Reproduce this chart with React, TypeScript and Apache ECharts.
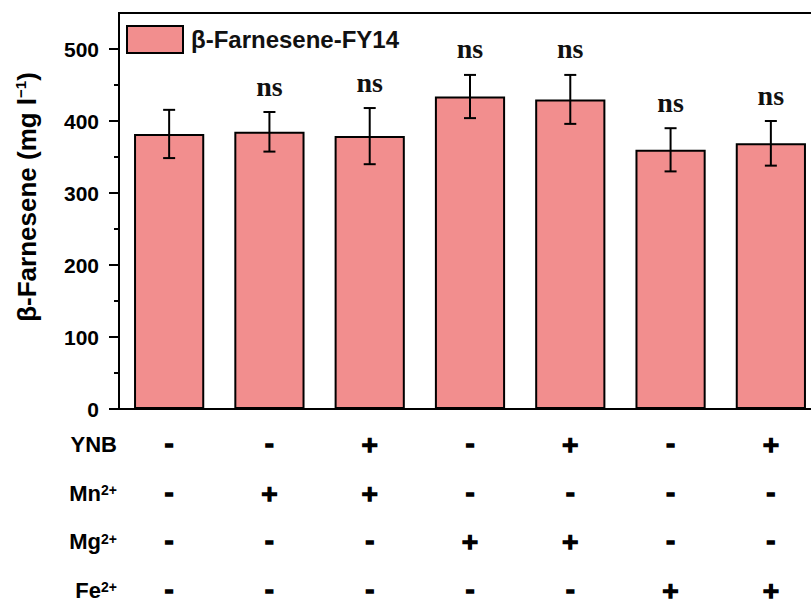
import React, { useEffect, useRef } from "react";
import * as echarts from "echarts";

const categories = ["C1", "C2", "C3", "C4", "C5", "C6", "C7"];
const values = [382, 385, 379, 434, 430, 360, 369];
const errors = [33.5, 27.5, 39, 30, 34, 30, 31];
const sigLabels = ["", "ns", "ns", "ns", "ns", "ns", "ns"];
const yTicks = [0, 100, 200, 300, 400, 500];
const yMinorTicks = [50, 150, 250, 350, 450];
const rowNames = ["YNB", "Mn", "Mg", "Fe"];
const rowSup = ["", "2+", "2+", "2+"];
const rowYNB = ["-", "-", "+", "-", "+", "-", "+"];
const rowMn = ["-", "+", "+", "-", "-", "-", "-"];
const rowMg = ["-", "-", "-", "+", "+", "-", "-"];
const rowFe = ["-", "-", "-", "-", "-", "+", "+"];
const rows = [rowYNB, rowMn, rowMg, rowFe];

const SANS = "Liberation Sans, Arial, sans-serif";

export default function App() {
  const ref = useRef<HTMLDivElement>(null);
  useEffect(() => {
    if (!ref.current) return;
    const chart = echarts.init(ref.current, null, { renderer: "svg" });

    const tableData: any[] = [];
    rows.forEach((signs, r) => signs.forEach((s, c) => tableData.push([c, r, s])));

    chart.setOption({
      animation: false,
      grid: [
        {
          left: 119,
          top: 13,
          width: 702,
          height: 396,
          show: true,
          borderColor: "#000",
          borderWidth: 2,
          backgroundColor: "transparent",
          outerBoundsMode: "none",
          containLabel: false,
        },
        {
          left: 119,
          top: 420.5,
          width: 702,
          height: 194,
          show: false,
          outerBoundsMode: "none",
          containLabel: false,
        },
      ],
      legend: {
        left: 126,
        top: 25,
        padding: 0,
        itemWidth: 56,
        itemHeight: 27,
        icon: "rect",
        data: ["β-Farnesene-FY14"],
        textStyle: {
          fontSize: 24,
          fontWeight: "bold",
          fontFamily: SANS,
          color: "#111",
          padding: [0, 0, 0, 3],
        },
      },
      xAxis: [
        {
          type: "category",
          gridIndex: 0,
          data: categories,
          z: 10,
          axisLine: { lineStyle: { color: "#000", width: 2 } },
          axisTick: { inside: true, alignWithLabel: true, length: 9, lineStyle: { color: "#000", width: 2 } },
          axisLabel: { show: false },
        },
        {
          type: "category",
          gridIndex: 1,
          data: categories,
          axisLine: { show: false },
          axisTick: { show: false },
          axisLabel: { show: false },
        },
      ],
      yAxis: [
        {
          type: "value",
          gridIndex: 0,
          min: 0,
          max: 550,
          interval: 100,
          z: 10,
          axisLine: { show: true, lineStyle: { color: "#000", width: 2 } },
          axisTick: { show: true, length: 10, customValues: yTicks, lineStyle: { color: "#000", width: 2 } },
          axisLabel: {
            customValues: yTicks,
            margin: 20,
            fontSize: 21,
            fontWeight: "bold",
            fontFamily: SANS,
            color: "#000",
          },
          splitLine: { show: false },
          name: "{a|β-Farnesene (mg l}{s|−1}{a|)}",
          nameLocation: "middle",
          nameGap: 78,
          nameTextStyle: {
            padding: [0, 0, 0, 28],
            rich: {
              a: { fontSize: 26, fontWeight: "bold", fontFamily: SANS, color: "#000", lineHeight: 28 },
              s: { fontSize: 15, fontWeight: "bold", fontFamily: SANS, color: "#000", verticalAlign: "top", lineHeight: 15 },
            },
          },
        },
        {
          type: "value",
          gridIndex: 0,
          min: 0,
          max: 550,
          interval: 50,
          position: "left",
          axisLine: { show: false },
          axisTick: { show: true, length: 5, customValues: yMinorTicks, lineStyle: { color: "#000", width: 2 } },
          axisLabel: { show: false },
          splitLine: { show: false },
        },
        {
          type: "category",
          gridIndex: 1,
          inverse: true,
          data: rowNames,
          axisLine: { show: false },
          axisTick: { show: false },
          splitLine: { show: false },
          axisLabel: {
            margin: 2,
            formatter: (v: string, i: number) => (rowSup[i] ? `{a|${v}}{s|${rowSup[i]}}` : `{a|${v}}`),
            rich: {
              a: { fontSize: 22, fontWeight: "bold", fontFamily: SANS, color: "#000", lineHeight: 20 },
              s: { fontSize: 14, fontWeight: "bold", fontFamily: SANS, color: "#000", verticalAlign: "top", lineHeight: 14 },
            },
          },
        },
      ],
      series: [
        {
          name: "β-Farnesene-FY14",
          type: "bar",
          xAxisIndex: 0,
          yAxisIndex: 0,
          data: values,
          barWidth: "70%",
          itemStyle: { color: "#F28E8E", borderColor: "#000", borderWidth: 2 },
        },
        {
          type: "custom",
          xAxisIndex: 0,
          yAxisIndex: 0,
          clip: false,
          z: 5,
          data: values.map((v, i) => [i, v, errors[i]]),
          encode: { x: 0, y: 1 },
          renderItem: (params: any, api: any) => {
            const x = api.value(0);
            const v = api.value(1);
            const e = api.value(2);
            const top = api.coord([x, v + e]);
            const bot = api.coord([x, v - e]);
            const hw = 6;
            const style = { stroke: "#000", lineWidth: 2 };
            const children: any[] = [
              { type: "line", shape: { x1: top[0], y1: top[1], x2: bot[0], y2: bot[1] }, style },
              { type: "line", shape: { x1: top[0] - hw, y1: top[1], x2: top[0] + hw, y2: top[1] }, style },
              { type: "line", shape: { x1: bot[0] - hw, y1: bot[1], x2: bot[0] + hw, y2: bot[1] }, style },
            ];
            const lbl = sigLabels[params.dataIndex];
            if (lbl) {
              children.push({
                type: "text",
                x: top[0],
                y: top[1] - 12,
                style: {
                  text: lbl,
                  fontSize: 28,
                  fontWeight: "bold",
                  fontFamily: "Liberation Serif, Times New Roman, serif",
                  fill: "#111",
                  align: "center",
                  verticalAlign: "bottom",
                },
              });
            }
            return { type: "group", children };
          },
        },
        {
          type: "custom",
          xAxisIndex: 1,
          yAxisIndex: 2,
          clip: false,
          data: tableData,
          encode: { x: 0, y: 1 },
          renderItem: (params: any, api: any) => {
            const p = api.coord([api.value(0), api.value(1)]);
            const sign = tableData[params.dataIndex][2];
            return {
              type: "text",
              x: p[0],
              y: p[1],
              style: {
                text: sign,
                fontSize: 22,
                lineHeight: 18,
                fontWeight: "bold",
                fontFamily: "DejaVu Sans, sans-serif",
                fill: "#000",
                stroke: "#000",
                lineWidth: 1.5,
                align: "center",
                verticalAlign: "middle",
              },
            };
          },
        },
      ],
    });
    return () => chart.dispose();
  }, []);
  return <div ref={ref} style={{ position: "absolute", left: 0, top: 0, width: 811, height: 604 }} />;
}
